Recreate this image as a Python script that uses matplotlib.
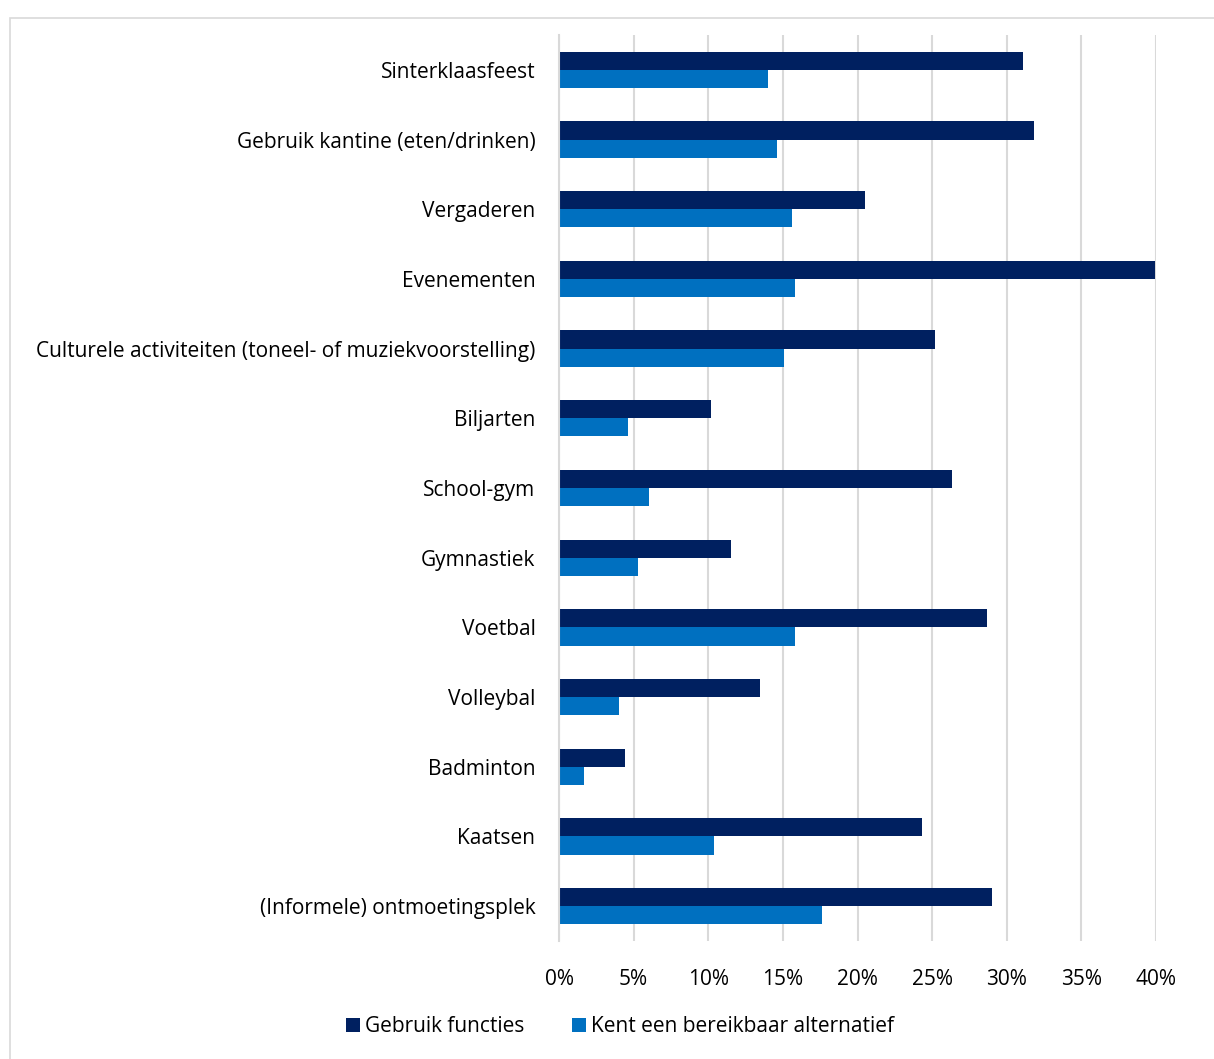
import matplotlib.pyplot as plt
from matplotlib.patches import Rectangle
import numpy as np

categories = [
    'Sinterklaasfeest',
    'Gebruik kantine (eten/drinken)',
    'Vergaderen',
    'Evenementen',
    'Culturele activiteiten (toneel- of muziekvoorstelling)',
    'Biljarten',
    'School-gym',
    'Gymnastiek',
    'Voetbal',
    'Volleybal',
    'Badminton',
    'Kaatsen',
    '(Informele) ontmoetingsplek',
]
gebruik = [31.1, 31.8, 20.5, 39.9, 25.2, 10.2, 26.3, 11.5, 28.7, 13.5, 4.4, 24.3, 29.0]
alternatief = [14.0, 14.6, 15.6, 15.8, 15.1, 4.6, 6.0, 5.3, 15.8, 4.0, 1.7, 10.4, 17.6]
ticks = [0, 5, 10, 15, 20, 25, 30, 35, 40]

plt.rcParams['font.family'] = ['Open Sans', 'DejaVu Sans']
fs = 15

fig = plt.figure(figsize=(12.14, 10.59), dpi=100)
# light frame around the chart
fig.patches.append(Rectangle((10 / 1214, -0.01), 1.1, 1 - 18 / 1059 + 0.01,
                             transform=fig.transFigure, fill=False,
                             edgecolor='#d9d9d9', linewidth=1.2))

ax = fig.add_axes([559 / 1214, 1 - 941 / 1059, (1156 - 559) / 1214, (941 - 35) / 1059])

y = np.arange(len(categories))
h = 0.26
ax.barh(y - h / 2, gebruik, height=h, color='#002060', label='Gebruik functies')
ax.barh(y + h / 2, alternatief, height=h, color='#0070C0', label='Kent een bereikbaar alternatief')

ax.set_ylim(len(categories) - 0.5, -0.5)
ax.set_xlim(0, 40)
ax.set_xticks(ticks)
ax.set_xticklabels([f'{t}%' for t in ticks], fontsize=fs)
ax.set_yticks(y)
ax.set_yticklabels(categories, fontsize=fs)
ax.tick_params(axis='y', length=0, pad=17)
ax.tick_params(axis='x', length=0, pad=20)
ax.grid(axis='x', color='#d9d9d9', linewidth=1.5)
ax.set_axisbelow(True)
for s in ['top', 'right', 'bottom']:
    ax.spines[s].set_visible(False)
ax.spines['left'].set_color('#d9d9d9')
ax.spines['left'].set_linewidth(1.5)

ax.legend(loc='center', bbox_to_anchor=(620 / 1214, 1 - 1027 / 1059),
          bbox_transform=fig.transFigure, ncol=2, frameon=False,
          fontsize=fs, handlelength=0.65, handleheight=0.65,
          handletextpad=0.25, columnspacing=2.3)

fig.savefig('out.png', dpi=100)
